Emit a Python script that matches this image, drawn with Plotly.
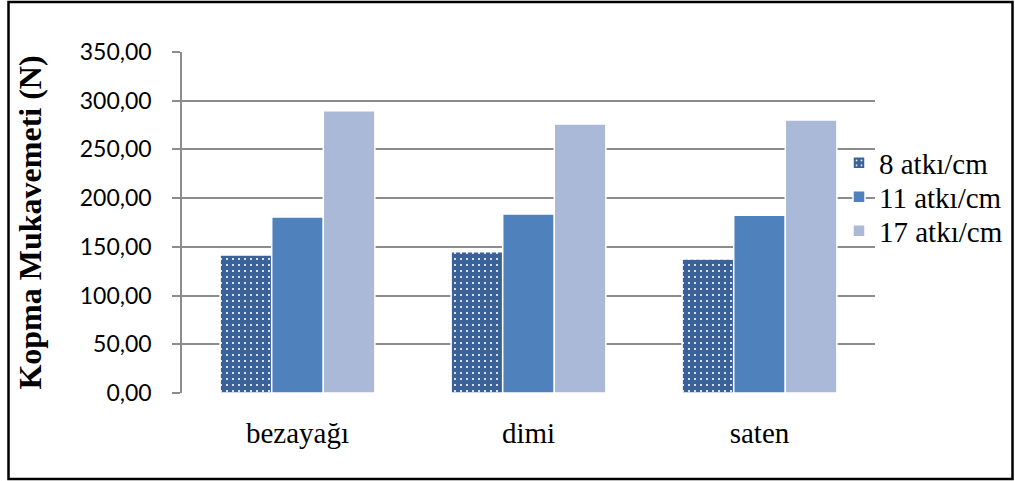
import plotly.graph_objects as go

categories = ["bezayağı", "dimi", "saten"]
series_names = ["8 atkı/cm", "11 atkı/cm", "17 atkı/cm"]
s8 = [141.7, 145.0, 137.6]
s11 = [180.7, 183.8, 182.4]
s17 = [289.8, 276.2, 280.3]
tick_vals = [0, 50, 100, 150, 200, 250, 300, 350]
tick_text = ["0,00", "50,00", "100,00", "150,00", "200,00", "250,00", "300,00", "350,00"]

W, H = 1015, 481
L, R, T, B = 182, 140, 52, 88
pw, ph = W - L - R, H - T - B

def px2paper_x(p):
    return (p - L) / pw

def px2paper_y(p):
    return 1 - (p - T) / ph

fig = go.Figure()
fig.add_trace(go.Bar(
    x=categories, y=s8, name=series_names[0], legend="legend", showlegend=True,
    marker=dict(color="#3A6299", line=dict(color="white", width=1.5),
                pattern=dict(shape=".", fgcolor="white", bgcolor="#3A6299",
                             size=6, solidity=0.1, fillmode="replace")),
))
fig.add_trace(go.Bar(
    x=categories, y=s11, name=series_names[1], legend="legend2", showlegend=True,
    marker=dict(color="#4F81BD", line=dict(color="white", width=1.5)),
))
fig.add_trace(go.Bar(
    x=categories, y=s17, name=series_names[2], legend="legend3", showlegend=True,
    marker=dict(color="#AAB9D7", line=dict(color="white", width=1.5)),
))

leg_common = dict(
    xanchor="left", yanchor="middle",
    font=dict(family="Liberation Serif", size=29, color="black"),
    bgcolor="rgba(0,0,0,0)", itemwidth=30, visible=True,
)
legend_y_px = [163, 197, 231]

fig.update_layout(
    width=W, height=H,
    showlegend=True,
    margin=dict(l=L, r=R, t=T, b=B, autoexpand=False),
    paper_bgcolor="white", plot_bgcolor="white",
    barmode="group", bargap=0.33, bargroupgap=0.0,
    font=dict(family="Liberation Serif", color="black"),
    legend=dict(x=px2paper_x(839), y=px2paper_y(legend_y_px[0]), **leg_common),
    legend2=dict(x=px2paper_x(839), y=px2paper_y(legend_y_px[1]), **leg_common),
    legend3=dict(x=px2paper_x(839), y=px2paper_y(legend_y_px[2]), **leg_common),
    xaxis=dict(
        showgrid=False, showline=False, ticks="",
        tickfont=dict(family="Liberation Serif", size=29, color="black"),
        ticklabelstandoff=20,
    ),
    yaxis=dict(
        range=[0, 350], tickvals=tick_vals, ticktext=tick_text,
        showgrid=True, gridcolor="#8C8C8C", gridwidth=1.5,
        showline=True, linecolor="#8C8C8C", linewidth=1.5,
        ticks="outside", ticklen=8, tickcolor="#8C8C8C", tickwidth=1.5,
        tickfont=dict(family="Lato", size=23, color="black"),
        ticklabelstandoff=16,
        zeroline=False,
        title=dict(text="<b>Kopma Mukavemeti (N)</b>",
                   font=dict(family="Liberation Serif", size=32, color="black"),
                   standoff=29),
    ),
    shapes=[dict(
        type="rect", xref="paper", yref="paper",
        x0=px2paper_x(8.5), x1=px2paper_x(1012.5),
        y0=px2paper_y(2), y1=px2paper_y(479),
        line=dict(color="black", width=2.5), fillcolor="rgba(0,0,0,0)",
        layer="above",
    )],
)

fig.write_html("out.html", config={"displayModeBar": False},
               post_script="document.body.style.margin='0';document.body.style.overflow='hidden';")
